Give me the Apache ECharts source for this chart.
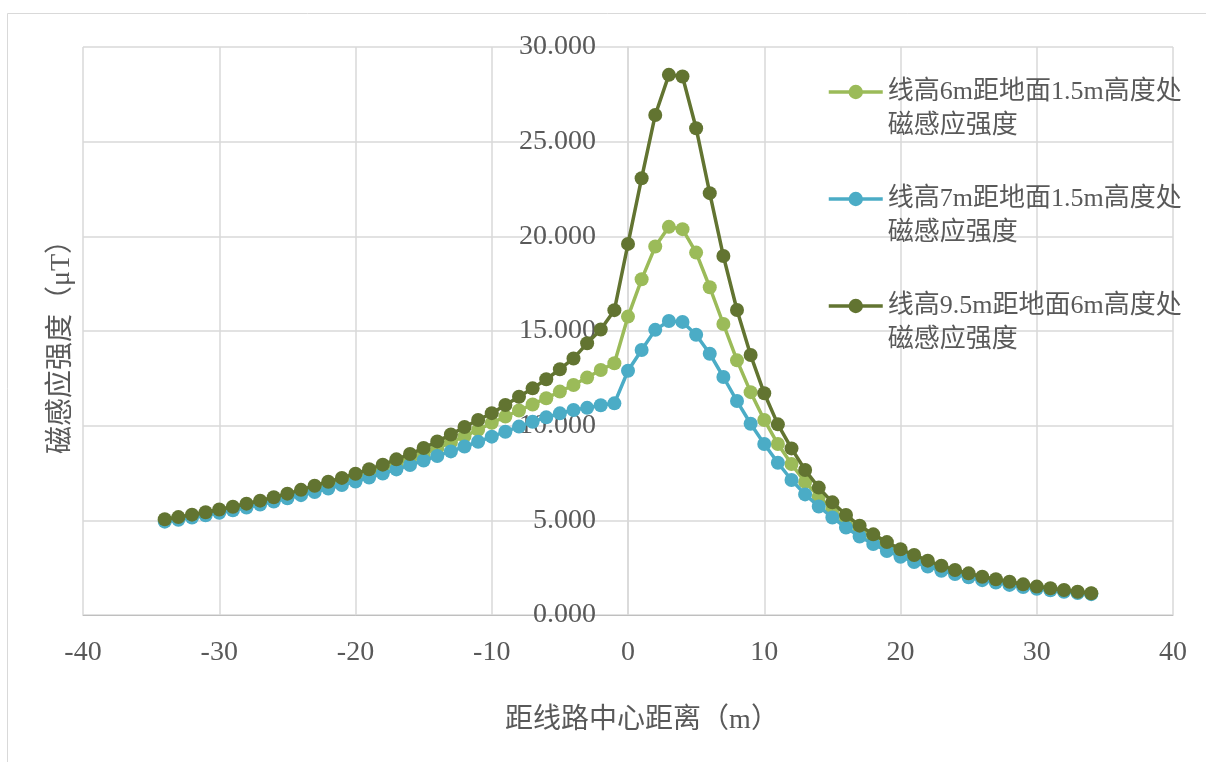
<!DOCTYPE html>
<html>
<head>
<meta charset="utf-8">
<script src="https://cdn.jsdelivr.net/npm/echarts@6/dist/echarts.min.js"></script>
<style>
  html, body { margin: 0; padding: 0; background: #ffffff; }
  #chart { width: 1206px; height: 762px; }
</style>
</head>
<body>
<div id="chart"></div>
<script>
// Distance from the line centre (m)
const distances = [
  -34, -33, -32, -31, -30, -29, -28, -27, -26, -25, -24, -23, -22, -21, -20, -19, -18, -17,
  -16, -15, -14, -13, -12, -11, -10, -9, -8, -7, -6, -5, -4, -3, -2, -1,
  0, 1, 2, 3, 4, 5, 6, 7, 8, 9, 10, 11, 12, 13, 14, 15, 16, 17,
  18, 19, 20, 21, 22, 23, 24, 25, 26, 27, 28, 29, 30, 31, 32, 33, 34
];

// Magnetic induction (μT), line height 6 m, 1.5 m above ground
const field6m = [
  5.00, 5.10, 5.23, 5.36, 5.49, 5.63, 5.78, 5.94, 6.11, 6.29, 6.47, 6.66, 6.86, 7.06, 7.27, 7.50, 7.73, 7.97,
  8.23, 8.50, 8.80, 9.12, 9.45, 9.78, 10.15, 10.48, 10.80, 11.12, 11.45, 11.80, 12.15, 12.54, 12.94, 13.30,
  15.76, 17.73, 19.46, 20.50, 20.38, 19.14, 17.31, 15.37, 13.45, 11.77, 10.30, 9.03, 7.97, 7.03, 6.25, 5.58, 5.00, 4.48,
  4.03, 3.62, 3.28, 2.98, 2.71, 2.47, 2.27, 2.09, 1.92, 1.79, 1.66, 1.55, 1.45, 1.36, 1.28, 1.20, 1.13
];

// Magnetic induction (μT), line height 7 m, 1.5 m above ground
const field7m = [
  4.93, 5.03, 5.15, 5.27, 5.40, 5.53, 5.68, 5.83, 5.99, 6.16, 6.33, 6.50, 6.68, 6.87, 7.05, 7.26, 7.47, 7.69,
  7.92, 8.16, 8.40, 8.64, 8.90, 9.15, 9.42, 9.68, 9.95, 10.21, 10.44, 10.65, 10.83, 10.94, 11.08, 11.18,
  12.90, 14.00, 15.06, 15.53, 15.48, 14.80, 13.80, 12.57, 11.30, 10.10, 9.03, 8.04, 7.13, 6.37, 5.73, 5.15, 4.62, 4.15,
  3.75, 3.38, 3.08, 2.80, 2.56, 2.34, 2.16, 1.99, 1.84, 1.71, 1.59, 1.48, 1.39, 1.31, 1.23, 1.16, 1.10
];

// Magnetic induction (μT), line height 9.5 m, 6 m above ground
const field9_5m = [
  5.06, 5.17, 5.30, 5.43, 5.57, 5.72, 5.88, 6.04, 6.22, 6.41, 6.61, 6.83, 7.04, 7.24, 7.46, 7.70, 7.94, 8.22,
  8.50, 8.82, 9.17, 9.53, 9.93, 10.30, 10.66, 11.09, 11.53, 11.97, 12.45, 12.98, 13.55, 14.35, 15.08, 16.10,
  19.60, 23.07, 26.41, 28.53, 28.44, 25.71, 22.28, 18.96, 16.11, 13.73, 11.71, 10.07, 8.80, 7.66, 6.73, 5.95, 5.28, 4.72,
  4.26, 3.85, 3.47, 3.17, 2.87, 2.60, 2.38, 2.20, 2.02, 1.89, 1.76, 1.62, 1.50, 1.41, 1.32, 1.23, 1.15
];

const seriesNames = [
  '线高6m距地面1.5m高度处磁感应强度',
  '线高7m距地面1.5m高度处磁感应强度',
  '线高9.5m距地面6m高度处磁感应强度'
];
const seriesColors = ['#9BBB59', '#4BACC6', '#627431'];
const seriesValues = [field6m, field7m, field9_5m];

const xAxisTitle = '距线路中心距离（m）';
const yAxisTitle = '磁感应强度（μT）';

const FONT = '"Liberation Serif", "Noto Sans CJK SC", serif';
const TEXT_COLOR = '#595959';

// plot area edges; the vertical axis sits on distance 0, in the middle
const GRID_LEFT = 83;
const GRID_RIGHT = 33;
const PLOT_WIDTH = 1206 - GRID_LEFT - GRID_RIGHT;

const chart = echarts.init(document.getElementById('chart'), null, { renderer: 'canvas' });

const series = seriesValues.map((vals, i) => ({
  name: seriesNames[i],
  type: 'line',
  data: distances.map((d, k) => [d, vals[k]]),
  symbol: 'circle',
  symbolSize: 14,
  showSymbol: true,
  color: seriesColors[i],
  lineStyle: { width: 3.5, color: seriesColors[i] },
  itemStyle: { color: seriesColors[i] },
  emphasis: { disabled: true },
  z: 2 + i
}));

chart.setOption({
  animation: false,
  backgroundColor: '#ffffff',
  graphic: [
    {
      type: 'rect',
      shape: { x: 7.5, y: 13.5, width: 1300, height: 800 },
      style: { fill: 'none', stroke: '#d9d9d9', lineWidth: 1 },
      silent: true,
      z: -10
    },
    {
      // vertical axis title
      type: 'text',
      x: 62,
      y: 340,
      rotation: Math.PI / 2,
      style: {
        text: yAxisTitle,
        font: '28px ' + FONT,
        fill: TEXT_COLOR,
        align: 'center',
        verticalAlign: 'middle'
      },
      silent: true
    }
  ],
  grid: { left: GRID_LEFT, right: GRID_RIGHT, top: 47, bottom: 147, containLabel: false, outerBoundsMode: 'none' },
  legend: {
    orient: 'vertical',
    left: 827,
    top: 41,
    padding: 0,
    itemWidth: 54,
    itemHeight: 18,
    itemGap: 5,
    lineStyle: { width: 3.5 },
    formatter: name => '\n' + name.replace('处', '处\n'),
    textStyle: {
      fontFamily: FONT,
      fontSize: 26,
      color: TEXT_COLOR,
      lineHeight: 34
    },
    data: seriesNames
  },
  xAxis: {
    type: 'value',
    min: -40,
    max: 40,
    interval: 10,
    name: xAxisTitle,
    nameLocation: 'middle',
    nameGap: 92,
    nameTextStyle: { fontFamily: FONT, fontSize: 28, color: TEXT_COLOR, padding: [0, 0, 0, 28] },
    axisLine: { show: true, onZero: false, lineStyle: { color: '#bfbfbf', width: 1 } },
    axisTick: { show: false },
    axisLabel: { fontFamily: FONT, fontSize: 28, color: TEXT_COLOR, margin: 24 },
    splitLine: { show: true, lineStyle: { color: '#d9d9d9', width: 1.5 } }
  },
  yAxis: {
    type: 'value',
    min: 0,
    max: 30,
    interval: 5,
    position: 'left',
    offset: -PLOT_WIDTH / 2,
    axisLine: { show: true, onZero: false, lineStyle: { color: '#d9d9d9', width: 1.5 } },
    axisTick: { show: false },
    axisLabel: {
      fontFamily: FONT, fontSize: 28, color: TEXT_COLOR, margin: 32,
      formatter: v => v.toFixed(3)
    },
    splitLine: { show: true, lineStyle: { color: '#d9d9d9', width: 1.5 } }
  },
  series: series
});
</script>
</body>
</html>
